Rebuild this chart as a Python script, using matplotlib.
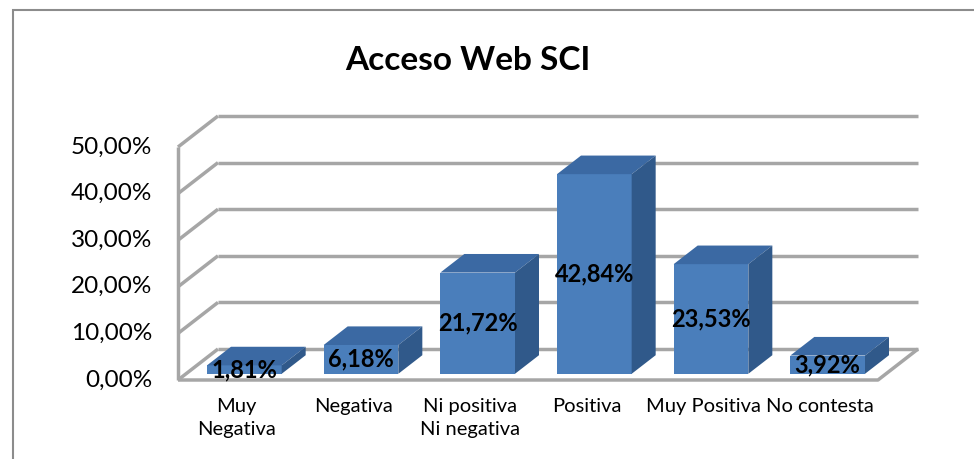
import numpy as np
import matplotlib
matplotlib.use("Agg")
import matplotlib.pyplot as plt
from matplotlib.patches import Polygon, Rectangle

plt.rcParams["font.family"] = ["Lato", "DejaVu Sans"]

categories = ["Muy\nNegativa", "Negativa", "Ni positiva\nNi negativa",
              "Positiva", "Muy Positiva", "No contesta"]
values = [1.81, 6.18, 21.72, 42.84, 23.53, 3.92]
value_labels = ["1,81%", "6,18%", "21,72%", "42,84%", "23,53%", "3,92%"]
yticks = [0, 10, 20, 30, 40, 50]
ytick_labels = ["0,00%", "10,00%", "20,00%", "30,00%", "40,00%", "50,00%"]
title = "Acceso Web SCI"

FRONT = "#4A7EBB"
TOP = "#3B69A3"
SIDE = "#30598A"
GRID = "#A6A6A6"

W, H = 974, 459
fig = plt.figure(figsize=(W / 100, H / 100), dpi=100)
# front plane of the plot: x 178..878 px, y 380 (0%) .. 147 (50%)
ax = fig.add_axes([178 / W, (H - 380) / H, 700 / W, 233 / H])
ax.set_xlim(-0.5, 5.5)
ax.set_ylim(0, 50)
ax.axis("off")

# depth vector in data units (40 px right, 31 px up)
DX = 40 / (700 / 6)
DY = 31 / (233 / 50)
x0, x1 = -0.5, 5.5
kw = dict(color=GRID, lw=2.5, clip_on=False, solid_capstyle="butt")

# gridlines: left wall diagonals + back wall lines
for t in yticks:
    ax.plot([x0, x0 + DX], [t, t + DY], zorder=1, **kw)
    ax.plot([x0 + DX, x1 + DX], [t + DY, t + DY], zorder=1, **kw)
ax.plot([x0, x0], [0, 50], zorder=1, **kw)
# floor front and right edge
ax.plot([x0, x1, x1 + DX], [0, 0, DY], zorder=1, **kw)

# bars
bw = 0.64
f0, fd = 0.2, 0.6
x = np.arange(len(values))
bx = x + f0 * DX
base = f0 * DY
ax.bar(bx, values, width=bw, bottom=base, color=FRONT, zorder=3, clip_on=False)
for xi, v in zip(bx, values):
    l, r, top = xi - bw / 2, xi + bw / 2, base + v
    ax.add_patch(Polygon([(l, top), (r, top), (r + fd * DX, top + fd * DY),
                          (l + fd * DX, top + fd * DY)],
                         closed=True, fc=TOP, ec="none", zorder=3, clip_on=False))
    ax.add_patch(Polygon([(r, base), (r, top), (r + fd * DX, top + fd * DY),
                          (r + fd * DX, base + fd * DY)],
                         closed=True, fc=SIDE, ec="none", zorder=3, clip_on=False))

for xi, v, lab in zip(bx, values, value_labels):
    ax.text(xi, base + v / 2, lab, ha="center", va="center", fontsize=17,
            fontweight="bold", color="black", zorder=5)

# y tick labels
for t, lab in zip(yticks, ytick_labels):
    ax.text(x0 - 0.22, t, lab, ha="right", va="center", fontsize=17.5,
            color="black", clip_on=False)

# category labels
for xi, lab in zip(x, categories):
    ax.text(xi, -3.9, lab, ha="center", va="top", fontsize=14.5,
            color="black", linespacing=1.45, clip_on=False)

fig.text(468 / W, 1 - 60 / H, title, ha="center", va="center",
         fontsize=24, fontweight="bold")

# chart border
fig.patches.append(Rectangle((13 / W, -0.1), 1.2, 1 - 10 / H + 0.1,
                             transform=fig.transFigure, fill=False,
                             ec="#8C8C8C", lw=1.5))

fig.savefig("out.png", dpi=100)
